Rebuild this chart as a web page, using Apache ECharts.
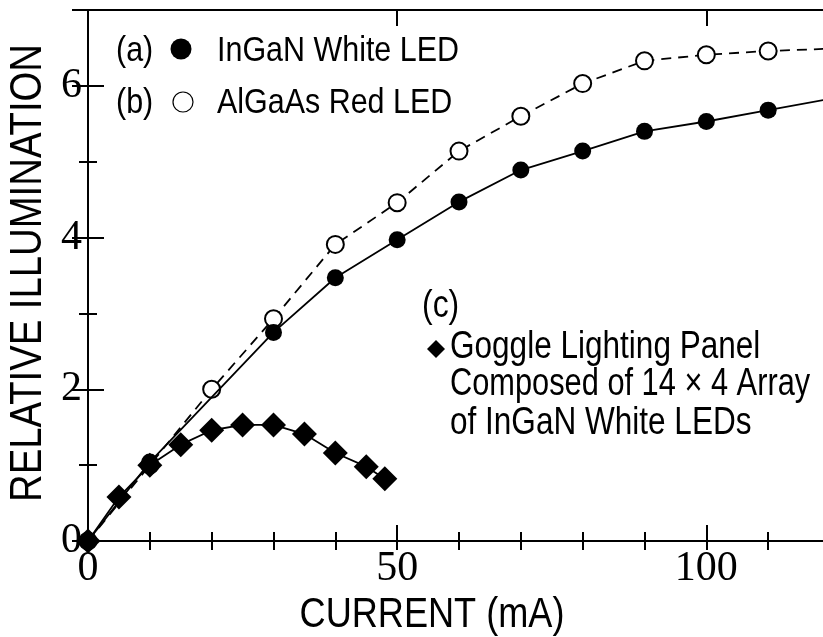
<!DOCTYPE html>
<html>
<head>
<meta charset="utf-8">
<script src="https://cdn.jsdelivr.net/npm/echarts@6/dist/echarts.min.js"></script>
<style>
  html, body { margin: 0; padding: 0; background: #fff; }
  #chart { width: 823px; height: 637px; }
</style>
</head>
<body>
<div id="chart"></div>
<script>
// current (mA) and relative illumination
var currentA = [0, 10, 30, 40, 50, 60, 70, 80, 90, 100, 110, 120]
var ingaN = [0, 1.04, 2.75, 3.47, 3.97, 4.47, 4.89, 5.14, 5.40, 5.53, 5.68, 5.83]
var currentB = [0, 10, 20, 30, 40, 50, 60, 70, 80, 90, 100, 110, 120]
var alGaAs = [0, 1.0, 2.0, 2.93, 3.91, 4.46, 5.14, 5.60, 6.03, 6.33, 6.41, 6.46, 6.49]
var currentC = [0, 5, 10, 15, 20, 25, 30, 35, 40, 45, 48]
var goggle = [0, 0.58, 1.0, 1.27, 1.46, 1.53, 1.53, 1.41, 1.16, 0.98, 0.82]

var xTicks = { min: 0, max: 120, minor: 10, major: 50 }
var yTicks = { min: 0, max: 7, minor: 1, major: 2 }

// no narrow font installed, so the sans text is squeezed with scaleX
var sans = "'Liberation Sans', Arial, sans-serif"
var serif = "'Liberation Serif', 'Times New Roman', serif"

function pairs(xs, ys) {
  return xs.map(function(x, i) { return [x, ys[i]] })
}

// markers sitting on the clipped right frame are not shown in the figure
function edgeSymbol(name) {
  return function(value) {
    return value[0] >= xTicks.max ? 'none' : name
  }
}

// one axis per tick length and side (short minor ticks, long major ticks)
function makeAxis(kind, pos, step, len, opts) {
  var t = kind === 'x' ? xTicks : yTicks
  var ax = {
    type: 'value',
    position: pos,
    min: t.min,
    max: t.max,
    interval: step,
    splitLine: { show: false },
    axisLine: { show: false },
    axisTick: { show: true, inside: true, length: len, lineStyle: { color: '#000', width: 2 } },
    axisLabel: { show: false }
  }
  return Object.assign(ax, opts || {})
}

function narrowText(x, y, text, size, sx, extra) {
  var el = {
    type: 'text',
    x: x,
    y: y,
    scaleX: sx,
    style: Object.assign({
      text: text,
      font: size + 'px ' + sans,
      fill: '#000',
      align: 'left',
      verticalAlign: 'middle'
    }, extra || {})
  }
  return el
}

var chart = echarts.init(document.getElementById('chart'))

var frameLine = { show: true, onZero: false, lineStyle: { color: '#000', width: 2 } }

var option = {
  animation: false,
  grid: { left: 88, top: 10, right: -7, bottom: 96, outerBoundsMode: 'none' },
  xAxis: [
    makeAxis('x', 'bottom', xTicks.major, 16, {
      axisLine: frameLine,
      axisLabel: {
        show: true, showMaxLabel: false, margin: 7,
        color: '#000', fontFamily: serif, fontSize: 42
      }
    }),
    makeAxis('x', 'bottom', xTicks.minor, 9),
    makeAxis('x', 'top', xTicks.major, 16, { axisLine: frameLine }),
    makeAxis('x', 'top', xTicks.minor, 9)
  ],
  yAxis: [
    makeAxis('y', 'left', yTicks.major, 16, {
      axisLine: frameLine,
      axisLabel: {
        show: true, showMaxLabel: false, margin: 6,
        color: '#000', fontFamily: serif, fontSize: 42
      }
    }),
    makeAxis('y', 'left', yTicks.minor, 9),
    makeAxis('y', 'right', yTicks.major, 16),
    makeAxis('y', 'right', yTicks.minor, 9)
  ],
  graphic: [
    // axis titles
    narrowText(432, 615, 'CURRENT (mA)', 42, 0.86, { align: 'center' }),
    Object.assign(narrowText(29, 273, 'RELATIVE ILLUMINATION', 44, 0.87, { align: 'center' }), { rotation: Math.PI / 2 }),
    // legend (a) / (b)
    narrowText(116, 51, '(a)', 35, 0.87),
    { type: 'circle', shape: { cx: 181, cy: 49, r: 10.5 }, style: { fill: '#000' } },
    narrowText(217, 51, 'InGaN White LED', 35, 0.87),
    narrowText(116, 103, '(b)', 35, 0.87),
    { type: 'circle', shape: { cx: 183, cy: 102, r: 10 }, style: { fill: '#fff', stroke: '#000', lineWidth: 1.2 } },
    narrowText(217, 103, 'AlGaAs Red LED', 35, 0.87),
    // annotation (c)
    narrowText(422, 307, '(c)', 38, 0.84),
    { type: 'polygon', shape: { points: [[436, 340], [445, 349], [436, 358], [427, 349]] }, style: { fill: '#000' } },
    narrowText(450, 348, 'Goggle Lighting Panel', 38, 0.83),
    narrowText(450, 385, 'Composed of 14 \u00d7 4 Array', 38, 0.81),
    narrowText(450, 424, 'of InGaN White LEDs', 38, 0.83)
  ],
  series: [
    {
      name: 'AlGaAs Red LED',
      type: 'line',
      data: pairs(currentB, alGaAs),
      symbol: edgeSymbol('circle'),
      symbolSize: 17,
      itemStyle: { color: '#fff', borderColor: '#000', borderWidth: 2 },
      lineStyle: { color: '#000', width: 1.8, type: [10, 7] },
      z: 3
    },
    {
      name: 'InGaN White LED',
      type: 'line',
      data: pairs(currentA, ingaN),
      symbol: edgeSymbol('circle'),
      symbolSize: 17,
      itemStyle: { color: '#000' },
      lineStyle: { color: '#000', width: 1.8 },
      z: 4
    },
    {
      name: 'Goggle Lighting Panel',
      type: 'line',
      data: pairs(currentC, goggle),
      symbol: 'diamond',
      symbolSize: 25,
      itemStyle: { color: '#000' },
      lineStyle: { color: '#000', width: 1.8 },
      z: 5
    }
  ]
}

chart.setOption(option)
window.addEventListener('resize', function() {
  chart.resize()
})
</script>
</body>
</html>
